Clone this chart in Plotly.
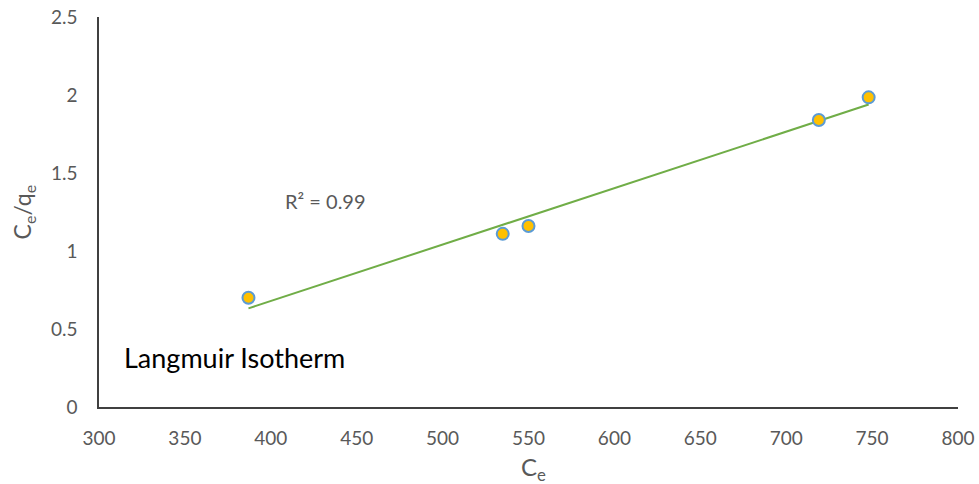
import numpy as np
import plotly.graph_objects as go

ce = [387, 535, 550, 719, 748]
ce_qe = [0.70, 1.11, 1.16, 1.84, 1.985]
x_ticks = [300, 350, 400, 450, 500, 550, 600, 650, 700, 750, 800]
y_ticks = [0, 0.5, 1, 1.5, 2, 2.5]
y_tick_text = ["0", "0.5", "1", "1.5", "2", "2.5"]

slope, intercept = np.polyfit(ce, ce_qe, 1)
fit_x = [min(ce), max(ce)]
fit_y = [slope * v + intercept for v in fit_x]

FONT = "Lato, Open Sans, sans-serif"
GREY = "#595959"

fig = go.Figure()
fig.add_trace(go.Scatter(x=fit_x, y=fit_y, mode="lines",
                         line=dict(color="#70AD47", width=2), showlegend=False))
fig.add_trace(go.Scatter(x=ce, y=ce_qe, mode="markers",
                         marker=dict(size=12, color="#FFC000",
                                     line=dict(color="#5B9BD5", width=2)),
                         showlegend=False))

fig.add_annotation(x=0.264, y=0.528, xref="paper", yref="paper", text="R² = 0.99",
                   showarrow=False, xanchor="center", yanchor="middle",
                   font=dict(family=FONT, size=20, color=GREY))
fig.add_annotation(x=0.027, y=0.128, xref="paper", yref="paper", text="Langmuir Isotherm",
                   showarrow=False, xanchor="left", yanchor="middle",
                   font=dict(family=FONT, size=27, color="#000000"))
fig.add_annotation(x=0.506, y=-0.158, xref="paper", yref="paper",
                   text="C<sub>e</sub>", showarrow=False, xanchor="center", yanchor="middle",
                   font=dict(family=FONT, size=24, color=GREY))
fig.add_annotation(x=-0.088, y=0.50, xref="paper", yref="paper",
                   text="C<sub>e</sub>/q<sub>e</sub>", showarrow=False, textangle=-90,
                   xanchor="center", yanchor="middle",
                   font=dict(family=FONT, size=23, color=GREY))

fig.update_layout(
    width=979, height=484,
    margin=dict(l=99, r=21, t=17, b=77),
    paper_bgcolor="white", plot_bgcolor="white",
    font=dict(family=FONT, color=GREY),
    xaxis=dict(range=[300, 800], tickvals=x_ticks, showgrid=False, zeroline=False,
               showline=True, linecolor="#404040", linewidth=1.5, automargin=False,
               tickfont=dict(size=19, color=GREY), ticks="outside",
               tickcolor="rgba(0,0,0,0)", ticklen=13),
    yaxis=dict(range=[0, 2.5], tickvals=y_ticks, ticktext=y_tick_text, showgrid=False,
               zeroline=False, showline=True, linecolor="#404040", linewidth=1.5,
               automargin=False, tickfont=dict(size=19, color=GREY), ticks="outside",
               tickcolor="rgba(0,0,0,0)", ticklen=16),
)

fig.write_html("out.html", config={"displayModeBar": False},
               post_script="document.body.style.margin='0';document.body.style.overflow='hidden';")
